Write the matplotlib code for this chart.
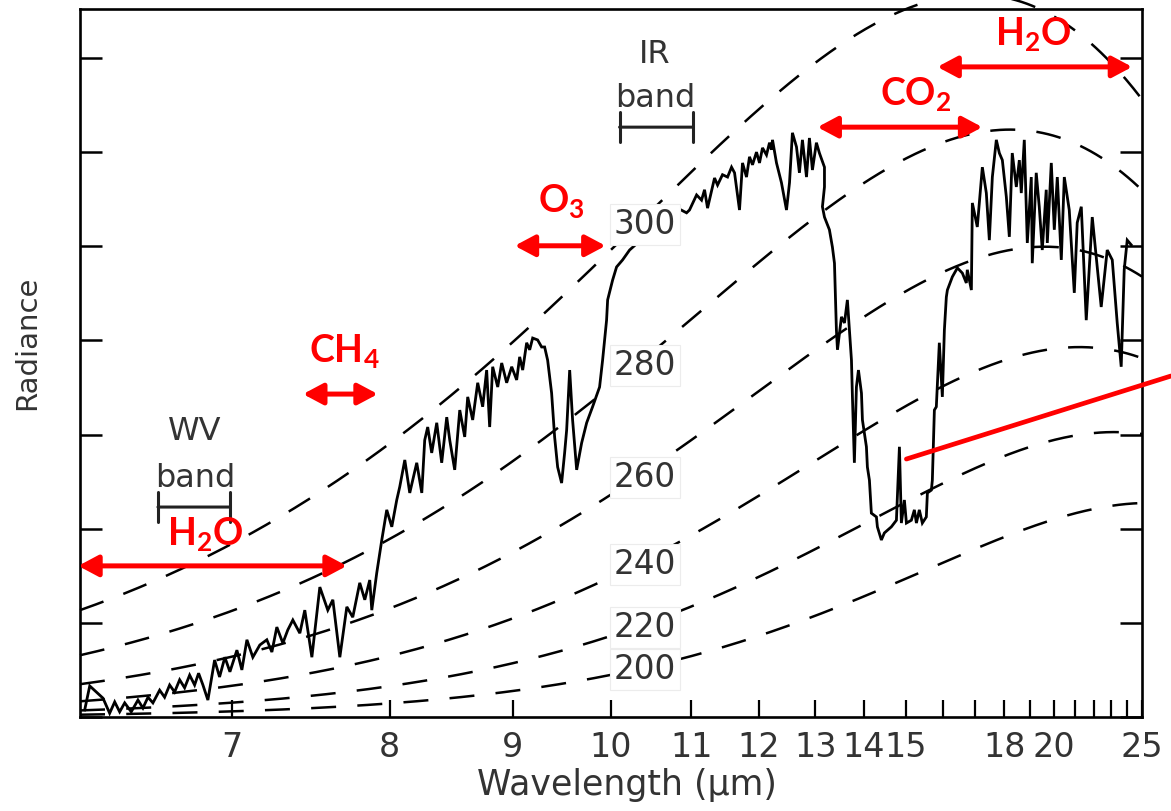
import numpy as np
import matplotlib
matplotlib.use("Agg")
import matplotlib.pyplot as plt

plt.rcParams["mathtext.fontset"] = "custom"
plt.rcParams["mathtext.rm"] = "Lato:bold"
plt.rcParams["mathtext.it"] = "Lato:bold"
plt.rcParams["mathtext.bf"] = "Lato:bold"

# Planck constants, radiance in mW / (m^2 sr cm^-1), wavenumber in cm^-1
C1 = 1.191042e-5
C2 = 1.4387770


def planck(nu, temp):
    nu = np.asarray(nu, dtype=float)
    return C1 * nu ** 3 / np.expm1(C2 * nu / temp)


# Measured thermal emission spectrum (wavenumber cm^-1, radiance)
wavenumber = [
    1594.7, 1589.0, 1574.0, 1566.5, 1560.8, 1555.2, 1549.5, 1542.1, 1534.5, 1528.9,
    1523.2, 1517.6, 1510.0, 1504.4, 1498.7, 1493.1, 1487.4, 1481.8, 1476.1, 1470.5,
    1466.0, 1461.1, 1455.5, 1447.9, 1442.3, 1436.3, 1430.6, 1422.7, 1417.1, 1411.4,
    1404.7, 1396.8, 1388.9, 1383.2, 1377.6, 1370.8, 1365.2, 1359.5, 1351.6, 1346.0,
    1338.0, 1329.0, 1320.0, 1314.3, 1306.4, 1298.5, 1291.8, 1283.9, 1278.2, 1272.6,
    1270.3, 1264.7, 1259.0, 1253.4, 1247.7, 1242.1, 1238.7, 1233.0, 1227.4, 1219.5,
    1213.8, 1210.5, 1207.1, 1202.6, 1196.9, 1191.3, 1185.6, 1182.2, 1176.6, 1170.9,
    1165.3, 1161.9, 1156.3, 1150.6, 1145.0, 1140.5, 1137.1, 1133.7, 1128.0, 1123.5,
    1117.9, 1112.2, 1106.6, 1103.2, 1099.8, 1095.3, 1091.9, 1088.5, 1082.9, 1078.4,
    1075.0, 1071.6, 1067.1, 1063.7, 1060.3, 1055.8, 1052.4, 1050.1, 1046.7, 1043.4,
    1038.8, 1033.2, 1027.5, 1020.8, 1012.9, 1009.5, 1007.2, 1005.0, 1003.8, 998.2,
    993.7, 986.9, 979.0, 970.0, 950.8, 933.8, 924.8, 914.6, 911.3, 903.3,
    897.7, 894.3, 890.9, 883.0, 879.6, 874.0, 868.3, 863.8, 860.4, 854.8,
    851.4, 846.9, 843.5, 840.1, 835.6, 832.2, 828.8, 824.3, 820.9, 818.7,
    817.5, 813.0, 807.4, 801.7, 798.3, 795.0, 790.4, 787.1, 783.7, 779.1,
    775.8, 772.4, 767.9, 764.5, 758.8, 758.8, 761.1, 758.8, 753.2, 749.8,
    747.5, 745.3, 744.1, 739.6, 736.2, 732.9, 730.6, 728.3, 727.2, 725.0,
    722.7, 720.4, 717.0, 715.9, 711.4, 710.3, 708.0, 705.8, 700.1, 699.0,
    694.5, 691.1, 683.2, 677.5, 674.1, 671.9, 668.5, 666.2, 660.6, 657.2,
    654.9, 651.6, 648.2, 643.7, 642.5, 638.0, 636.9, 634.6, 632.4, 629.0,
    625.6, 623.3, 621.1, 619.9, 614.3, 608.6, 603.0, 598.5, 597.4, 592.8,
    591.7, 586.1, 580.4, 575.9, 572.5, 569.1, 564.6, 561.2, 557.8, 553.3,
    549.9, 546.6, 542.0, 538.6, 536.4, 533.0, 529.6, 525.1, 524.0, 519.5,
    516.1, 512.7, 508.2, 507.0, 502.5, 499.1, 495.7, 491.2, 487.8, 482.2,
    476.5, 473.2, 468.6, 463.0, 456.2, 450.6, 446.1, 439.3, 433.6, 428.0,
    423.5, 420.1, 416.7, 412.2,
]
radiance = [
    1.5, 6.6, 4.0, 0.8, 3.2, 1.1, 3.0, 1.1, 3.6, 1.9,
    4.2, 3.0, 5.7, 4.2, 6.8, 5.3, 7.9, 6.2, 8.9, 6.8,
    9.3, 6.8, 3.6, 12.1, 8.5, 12.7, 9.6, 14.2, 10.0, 16.4,
    12.7, 15.3, 16.4, 13.8, 19.1, 15.7, 18.5, 20.6, 17.8, 22.7,
    12.7, 27.6, 22.7, 24.9, 12.7, 23.4, 21.2, 28.5, 24.9, 29.1,
    22.7, 30.6, 37.6, 44.0, 40.4, 46.1, 48.9, 54.6, 47.6, 54.0,
    47.6, 58.8, 61.6, 56.1, 62.5, 54.0, 63.7, 58.8, 52.5, 65.2,
    59.5, 68.0, 63.1, 71.0, 65.9, 73.7, 61.6, 74.4, 70.1, 75.2,
    71.0, 74.4, 71.6, 76.5, 73.7, 79.5, 78.0, 80.5, 80.1, 78.6,
    78.6, 75.8, 68.8, 59.5, 53.1, 49.7, 56.1, 61.0, 73.7, 63.1,
    52.5, 58.2, 62.5, 65.9, 70.1, 75.8, 80.1, 84.3, 88.6, 92.8,
    95.6, 97.1, 99.2, 100.7, 103.0, 106.0, 108.1, 107.1, 107.7, 110.9,
    109.8, 112.0, 108.1, 114.5, 113.0, 115.2, 114.7, 116.8, 115.6, 107.7,
    117.7, 114.7, 119.0, 117.3, 120.0, 117.7, 120.9, 119.4, 122.0, 120.5,
    122.6, 117.7, 113.5, 107.7, 113.5, 124.1, 121.1, 115.6, 122.6, 114.7,
    123.0, 116.2, 122.0, 119.8, 116.8, 112.6, 108.4, 106.2, 103.5, 99.8,
    96.4, 82.2, 78.0, 85.0, 83.7, 88.6, 82.2, 75.8, 68.0, 54.0,
    70.1, 73.7, 68.8, 63.1, 57.4, 53.1, 50.3, 43.3, 42.5, 40.4,
    37.6, 39.1, 40.4, 41.8, 57.4, 41.2, 46.1, 41.2, 41.8, 44.0,
    41.2, 44.0, 41.2, 42.5, 47.6, 48.2, 50.3, 65.2, 65.9, 79.5,
    68.0, 82.2, 89.2, 90.7, 93.5, 95.4, 94.3, 92.2, 95.0, 90.7,
    109.2, 104.1, 116.8, 111.3, 101.3, 114.7, 122.6, 119.8, 118.3, 110.5,
    102.0, 119.8, 112.6, 118.3, 111.3, 122.6, 100.7, 114.7, 96.4, 115.6,
    108.4, 99.2, 112.0, 100.7, 117.7, 103.5, 114.7, 97.1, 114.7, 107.7,
    90.1, 105.0, 108.4, 84.3, 106.2, 95.6, 87.1, 99.2, 97.1, 83.7,
    74.4, 95.0, 101.3, 100.3,
]
assert len(wavenumber) == len(radiance)

# Blackbody reference temperatures (K)
temperatures = [200, 220, 240, 260, 280, 300]
temp_label_nu = 962.0
temp_label_eval_nu = 971.0

# Wavelength ticks (um); only some carry a label
tick_wavelengths = [7, 8, 9, 10, 11, 12, 13, 14, 15, 16, 17, 18, 19, 20, 21, 22, 23, 24, 25]
labeled_wavelengths = [7, 8, 9, 10, 11, 12, 13, 14, 15, 18, 20, 25]

# Instrument bands (wavenumber range, bar height, label anchor)
band_names = ["WV", "IR"]
band_ranges = [(1511.9, 1430.6), (990.3, 907.9)]
band_bar_y = [44.6, 125.3]
band_text_nu = [1470.2, 950.2]
band_top_y = [58.9, 138.9]
band_bottom_y = [48.9, 129.6]

# Absorbing gases: arrow span (cm^-1), arrow height, label position
gas_labels = ["H$_2$O", "CH$_4$", "O$_3$", "CO$_2$", "H$_2$O"]
gas_spans = [(1602.0, 1298.5), (1348.0, 1263.5), (1108.8, 1006.1), (766.7, 580.4), (631.2, 411.1)]
gas_arrow_y = [32.1, 68.6, 100.1, 125.3, 138.1]
gas_text_nu = [1458.9, 1301.0, 1055.8, 656.0, 522.8]
gas_text_y = [36.5, 75.4, 107.3, 130.0, 142.8]

# Pointer from the 15 um Q-branch spike
pointer_start = (666.2, 54.8)

fig = plt.figure(figsize=(11.71, 8.11), dpi=100)
ax = fig.add_axes([80 / 1171, 1 - 717 / 811, 1062 / 1171, 708 / 811])

nu_grid = np.linspace(1600, 400, 600)
for T in temperatures:
    ax.plot(nu_grid, planck(nu_grid, T), color="black", lw=1.8,
            linestyle=(0, (10, 8.5)), clip_on=False, zorder=2)

ax.plot(wavenumber, radiance, color="black", lw=2.0, zorder=3,
        solid_joinstyle="miter")

for T in temperatures:
    ax.text(temp_label_nu, planck(temp_label_eval_nu, T), str(T),
            ha="center", va="center", fontsize=23.5, color="#333333", zorder=5,
            bbox=dict(boxstyle="square,pad=0.12", fc="white", ec="#ececec", lw=0.8))

for name, (a, b), yb, xt, yt, ybot in zip(band_names, band_ranges, band_bar_y,
                                         band_text_nu, band_top_y, band_bottom_y):
    ax.annotate("", xy=(b, yb), xytext=(a, yb),
                arrowprops=dict(arrowstyle="|-|,widthA=0.55,widthB=0.55",
                                color="#222222", lw=2.2, shrinkA=0, shrinkB=0,
                                mutation_scale=20), zorder=4)
    ax.text(xt, yt, name, ha="center", va="baseline", fontsize=23, color="#333333")
    ax.text(xt, ybot, "band", ha="center", va="baseline", fontsize=23, color="#333333")

for lab, (a, b), ya, xt, yt in zip(gas_labels, gas_spans, gas_arrow_y, gas_text_nu, gas_text_y):
    ax.annotate("", xy=(b, ya), xytext=(a, ya), annotation_clip=False,
                arrowprops=dict(arrowstyle="<|-|>,head_length=0.6,head_width=0.32",
                                color="red", lw=3.6, shrinkA=0, shrinkB=0,
                                mutation_scale=20), zorder=6)
    ax.text(xt, yt, lab, ha="center", va="baseline", fontsize=27,
            color="red", family="Lato", fontweight="bold", zorder=6)

ax.annotate("", xy=pointer_start, xytext=(1.0, 1 - 376 / 811),
            textcoords="figure fraction",
            arrowprops=dict(arrowstyle="-", color="red", lw=3.4, shrinkA=0, shrinkB=0),
            zorder=6)

ax.set_xlim(1600, 400)
ax.set_ylim(0, 150.4)
ax.set_xticks([1e4 / w for w in tick_wavelengths])
ax.set_xticklabels([str(w) if w in labeled_wavelengths else "" for w in tick_wavelengths])
ax.set_yticks(np.arange(0, 141, 20))
ax.tick_params(axis="x", direction="in", length=12, width=1.6, labelsize=24,
               labelcolor="#333333", pad=10, top=False)
ax.tick_params(axis="y", direction="in", length=16, width=1.8, left=True, right=True,
               labelleft=False)
for sp in ax.spines.values():
    sp.set_linewidth(1.9)

ax.set_xlabel("Wavelength (μm)", fontsize=25, color="#333333")
ax.xaxis.label.set_va("center")
ax.xaxis.set_label_coords(0.515, -0.096)
ax.set_ylabel("Radiance", fontsize=21, color="#333333")
ax.yaxis.label.set_va("center")
ax.yaxis.set_label_coords(-0.05, 0.528)

fig.savefig("out.png", dpi=100)
